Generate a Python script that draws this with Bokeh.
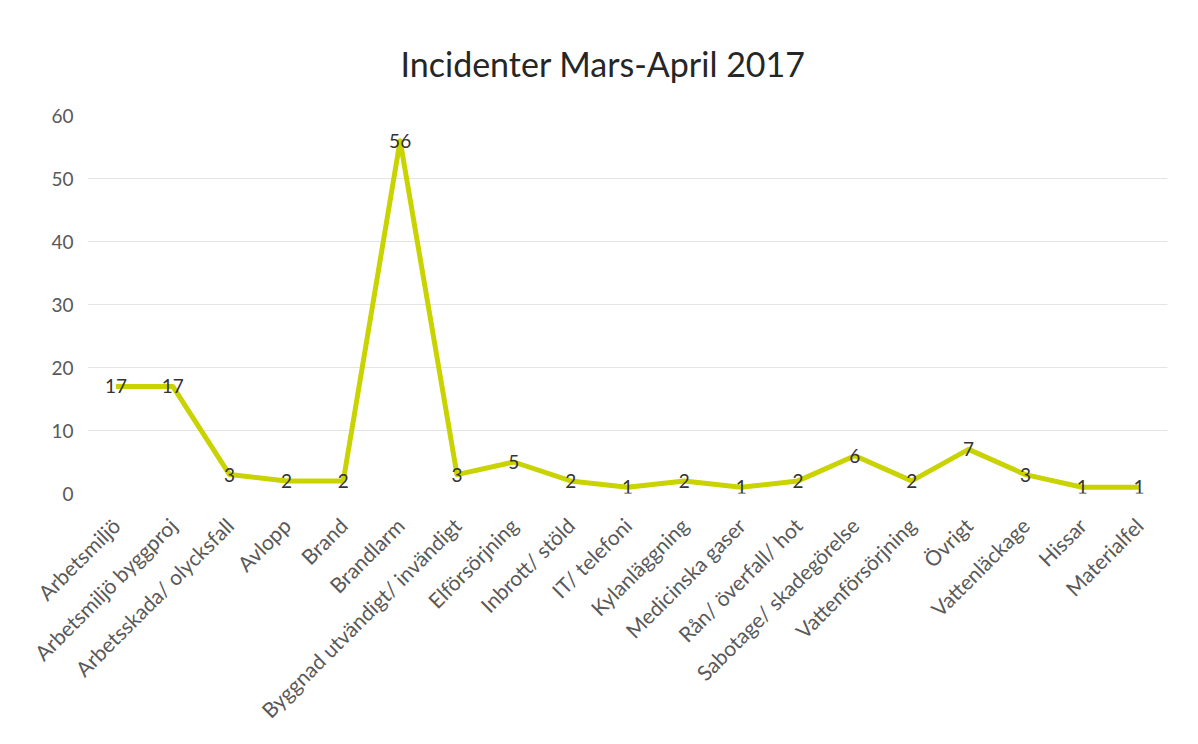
from math import pi
from bokeh.plotting import figure
from bokeh.models import ColumnDataSource, Range1d, FactorRange
from bokeh.embed import file_html
from bokeh.resources import INLINE
from bokeh.core.properties import value

categories = [
    "Arbetsmiljö", "Arbetsmiljö byggproj", "Arbetsskada/ olycksfall", "Avlopp", "Brand",
    "Brandlarm", "Byggnad utvändigt/ invändigt", "Elförsörjning", "Inbrott/ stöld",
    "IT/ telefoni", "Kylanläggning", "Medicinska gaser", "Rån/ överfall/ hot",
    "Sabotage/ skadegörelse", "Vattenförsörjning", "Övrigt", "Vattenläckage", "Hissar",
    "Materialfel",
]
counts = [17, 17, 3, 2, 2, 56, 3, 5, 2, 1, 2, 1, 2, 6, 2, 7, 3, 1, 1]
y_ticks = [0, 10, 20, 30, 40, 50, 60]

src = ColumnDataSource(dict(cat=categories, val=counts, lab=[str(v) for v in counts]))

p = figure(
    width=1190, height=736,
    x_range=FactorRange(*categories), y_range=Range1d(0, 60),
    output_backend="svg", toolbar_location=None,
    min_border_left=87, min_border_right=23, min_border_top=115, min_border_bottom=243,
    title="Incidenter Mars-April 2017",
)
p.title.align = "left"
p.title.offset = 313
p.title.text_font = "Lato"
p.title.text_font_size = "34px"
p.title.text_font_style = "normal"
p.title.text_color = "#262626"
p.title.standoff = 64

p.outline_line_color = None
p.background_fill_color = "white"
p.border_fill_color = "white"

p.xgrid.grid_line_color = None
p.ygrid.grid_line_color = "#e4e4e4"
p.ygrid.grid_line_width = 1
p.yaxis.ticker = y_ticks

for ax in (p.xaxis, p.yaxis):
    ax.axis_line_color = None
    ax.major_tick_line_color = None
    ax.minor_tick_line_color = None
    ax.major_label_text_font = "Lato"
    ax.major_label_text_color = "#595959"

p.yaxis.major_label_text_font_size = "19px"
p.xaxis.major_label_text_font_size = "21px"
p.yaxis.major_label_standoff = 8
p.xaxis.major_label_standoff = 22
p.xaxis.major_label_orientation = pi / 4

p.line("cat", "val", source=src, line_color="#c9d300", line_width=5, line_join="round")
p.text("cat", "val", text="lab", source=src, text_align="center", text_baseline="middle",
       text_font=value("Lato"), text_font_size="19px", text_color="#333333")

open("out.html", "w").write(file_html(p, INLINE))
